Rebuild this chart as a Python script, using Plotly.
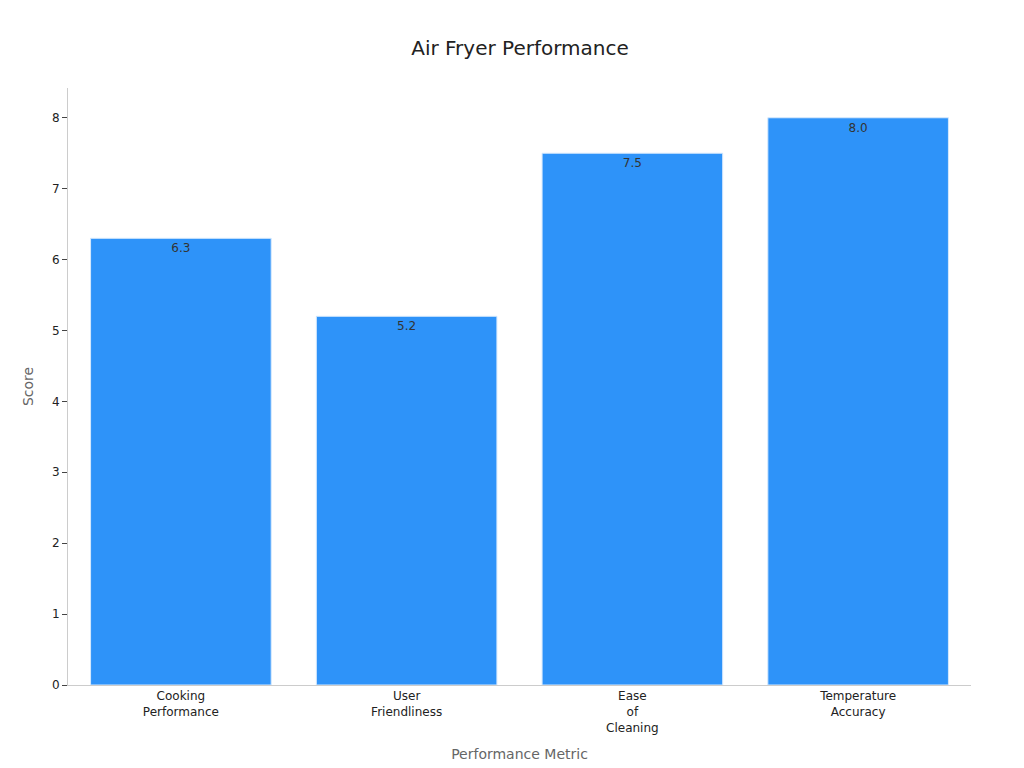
import plotly.graph_objects as go

categories = ["Cooking<br>Performance", "User<br>Friendliness", "Ease<br>of<br>Cleaning", "Temperature<br>Accuracy"]
scores = [6.3, 5.2, 7.5, 8.0]

fig = go.Figure(go.Bar(
    x=categories, y=scores,
    marker=dict(color="#2E93F9", line=dict(color="#D6E9FD", width=1)),
    text=[f"{v:.1f}" for v in scores], textposition="inside", insidetextanchor="end",
    textfont=dict(color="#333333", size=12),
    width=0.8,
))
fig.update_layout(
    width=1024, height=768,
    margin=dict(l=60, r=61, t=80, b=91),
    paper_bgcolor="white", plot_bgcolor="white",
    font=dict(family="DejaVu Sans", size=12, color="#222222"),
    title=dict(text="Air Fryer Performance", x=0.5, xanchor="center", y=0.957,
               font=dict(size=20, color="#222222")),
    showlegend=False,
)
fig.update_xaxes(title=dict(text="Performance Metric", font=dict(size=14, color="#666666")),
                 showline=True, linecolor="#CCCCCC", ticks="", tickfont=dict(size=12))
fig.update_yaxes(title=dict(text="Score", font=dict(size=14, color="#666666")),
                 range=[0, 8.42], dtick=1, showgrid=False, zeroline=False,
                 showline=True, linecolor="#CCCCCC", ticks="outside", ticklen=5,
                 tickcolor="#444444", tickfont=dict(size=12))
fig.write_html("out.html")
